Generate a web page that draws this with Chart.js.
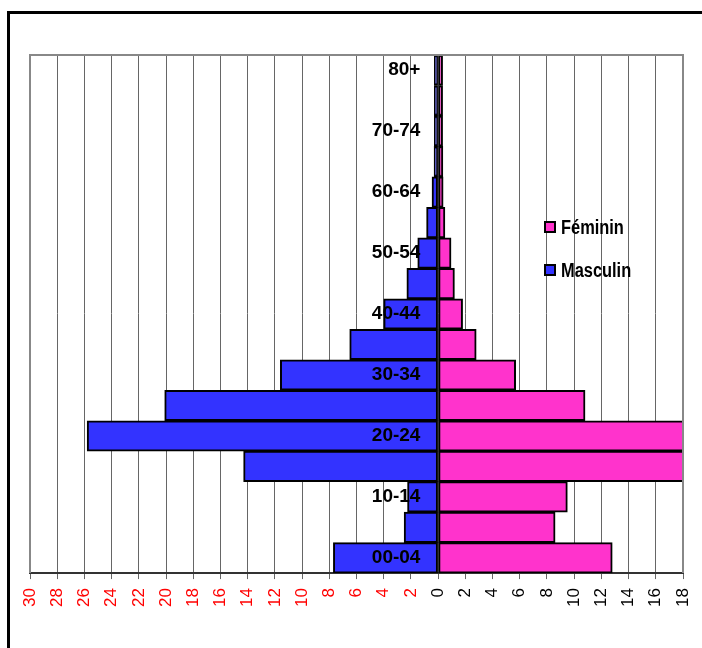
<!DOCTYPE html>
<html>
<head>
<meta charset="utf-8">
<script src="https://cdn.jsdelivr.net/npm/chart.js@4"></script>
<style>
    html, body { margin: 0; padding: 0; background: #fff; overflow: hidden; }
    #wrap { position: relative; width: 702px; height: 648px; }
    #frame { position: absolute; left: 7px; top: 11px; width: 800px; height: 800px;
             border-left: 3px solid #000; border-top: 3px solid #000; }
    #legend { position: absolute; left: 544px; top: 214px; font-family: "Liberation Sans", Arial, sans-serif;
              font-weight: bold; font-size: 20px; color: #000; }
    #legend div { display: flex; align-items: center; height: 26px; margin-bottom: 17px; }
    #legend span.box { display: inline-block; width: 8px; height: 8px; border: 2px solid #000; margin-right: 5px; }
    #legend span.txt { display: inline-block; transform: scaleX(0.82); transform-origin: left center; }
    canvas { position: absolute; left: 0; top: 0; }
</style>
</head>
<body>
<div id="wrap">
    <div id="frame"></div>
    <canvas id="pyramid" width="702" height="648"></canvas>
    <div id="legend">
        <div><span class="box" style="background:#FF33CC"></span><span class="txt">Féminin</span></div>
        <div><span class="box" style="background:#3333FF"></span><span class="txt">Masculin</span></div>
    </div>
</div>
<script>
const ages = ['00-04', '05-09', '10-14', '15-19', '20-24', '25-29', '30-34', '35-39', '40-44',
              '45-49', '50-54', '55-59', '60-64', '65-69', '70-74', '75-79', '80+'];
const masculin = [7.7, 2.5, 2.25, 14.3, 25.8, 20.1, 11.6, 6.5, 4.0, 2.3, 1.5, 0.85, 0.45, 0.3, 0.28, 0.28, 0.28];
const feminin = [12.8, 8.6, 9.5, 20, 22, 10.8, 5.7, 2.8, 1.8, 1.2, 0.95, 0.5, 0.37, 0.35, 0.33, 0.33, 0.33];
const xMin = -30;
const xMax = 18;
const xStep = 2;

// cadre gris de la zone de tracé
const plotFrame = {
    id: 'plotFrame',
    afterDraw(chart) {
        const a = chart.chartArea;
        const ctx = chart.ctx;
        ctx.save();
        ctx.strokeStyle = '#888';
        ctx.lineWidth = 2;
        ctx.beginPath();
        ctx.moveTo(a.left, a.bottom);
        ctx.lineTo(a.left, a.top);
        ctx.lineTo(a.right, a.top);
        ctx.lineTo(a.right, a.bottom);
        ctx.stroke();
        ctx.restore();
    }
};

const ctx = document.getElementById('pyramid').getContext('2d');

new Chart(ctx, {
    type: 'bar',
    data: {
        labels: ages,
        datasets: [{
            label: 'Féminin',
            data: feminin,
            backgroundColor: '#FF33CC',
            borderColor: '#000',
            borderWidth: 2,
            borderSkipped: false,
        }, {
            label: 'Masculin',
            data: masculin.map(v => -v),
            backgroundColor: '#3333FF',
            borderColor: '#000',
            borderWidth: 2,
            borderSkipped: false,
        }],
    },
    options: {
        indexAxis: 'y',
        responsive: false,
        animation: false,
        categoryPercentage: 1,
        barPercentage: 1,
        layout: {
            padding: { left: 30, right: 19, top: 55, bottom: 32 },
        },
        plugins: {
            legend: { display: false },
            tooltip: {
                callbacks: {
                    label: (context) => `${context.dataset.label}: ${Math.abs(context.raw)}`,
                }
            },
        },
        scales: {
            x: {
                stacked: true,
                min: xMin,
                max: xMax,
                afterFit: (scale) => {
                    scale.paddingLeft = 0;
                    scale.paddingRight = 0;
                },
                ticks: {
                    stepSize: xStep,
                    minRotation: 90,
                    maxRotation: 90,
                    padding: 9,
                    font: { family: '"Liberation Sans", Arial, sans-serif', size: 17 },
                    color: (c) => c.tick.value < 0 ? '#FF0000' : '#000',
                    callback: (value) => Math.abs(value),
                },
                grid: {
                    color: '#666',
                    lineWidth: 1,
                    tickLength: 6,
                    tickColor: '#666',
                },
                border: { color: '#333', width: 2 },
            },
            y: {
                stacked: true,
                reverse: true,
                position: { x: -1.3 },
                grid: { display: false, drawTicks: false },
                border: { display: false },
                ticks: {
                    z: 1,
                    autoSkip: false,
                    padding: 0,
                    color: '#000',
                    font: { family: '"Liberation Sans", Arial, sans-serif', size: 19, weight: 'bold' },
                    callback: (value, index) => index % 2 === 0 ? ages[index] : '',
                },
            },
        },
    },
    plugins: [plotFrame],
});
</script>
</body>
</html>
